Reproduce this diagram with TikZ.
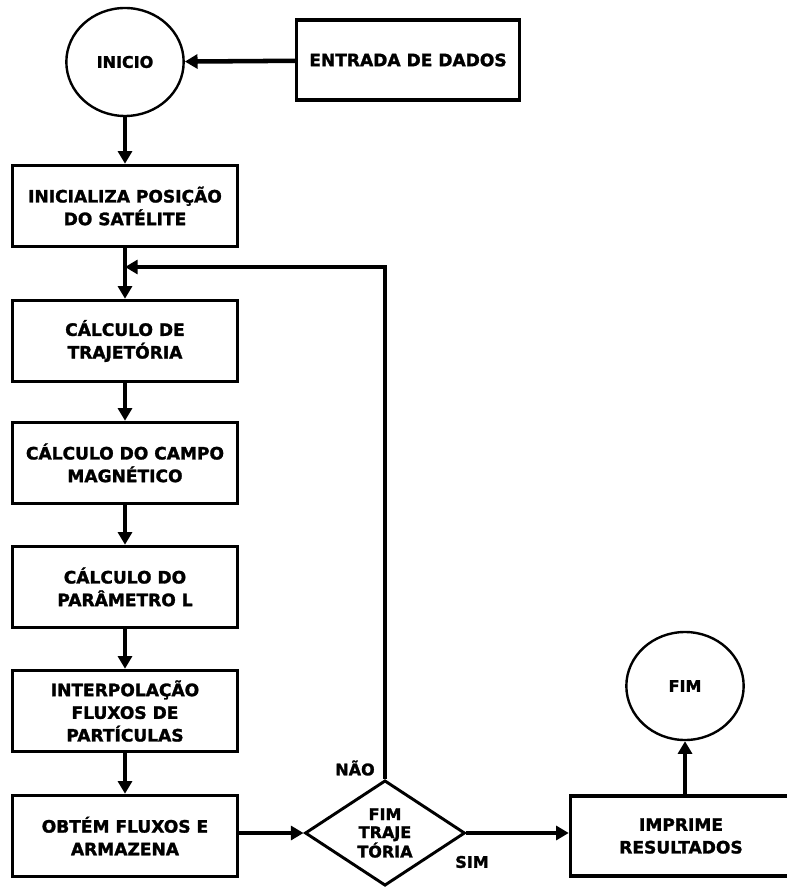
\documentclass[tikz,border=0pt]{standalone}
\usepackage{fontspec}
\setmainfont{DejaVu Sans}
\newfontfamily\grosso{DejaVu Sans Bold}[FakeBold=1.6]
\usetikzlibrary{shapes.geometric,arrows.meta}
\tikzset{
  passo/.style={draw,line width=2.4pt,minimum width=169pt,minimum height=61pt,align=center,
    font=\grosso\fontsize{12.8}{17}\selectfont},
  term/.style={draw,ellipse,line width=1.8pt,minimum width=88pt,minimum height=81pt,
    font=\grosso\fontsize{12}{14}\selectfont},
  decisao/.style={draw,diamond,line width=2.2pt,minimum width=120pt,minimum height=79pt,inner sep=0pt,
    shape aspect=1.5,align=center,font=\grosso\fontsize{12}{13.5}\selectfont},
  fluxo/.style={-{Triangle[length=9.5pt,width=10.5pt]},line width=3.4pt},
  rotulo/.style={font=\grosso\fontsize{12}{14}\selectfont}
}
\begin{document}
\begin{tikzpicture}[x=0.75pt,y=-0.75pt]
  \useasboundingbox (0,0) rectangle (786,887);
  \node (ini) at (125,62) [term] {INICIO};
  \node (ent) at (408,60) [passo,minimum width=167pt,minimum height=60pt] {ENTRADA DE DADOS};
  \node (pos) at (125,206) [passo] {INICIALIZA POSIÇÃO\\DO SATÉLITE};
  \node (traj) at (125,341) [passo] {CÁLCULO DE\\TRAJETÓRIA};
  \node (campo) at (125,463) [passo] {CÁLCULO DO CAMPO\\MAGNÉTICO};
  \node (param) at (125,587) [passo] {CÁLCULO DO\\PARÂMETRO L};
  \node (interp) at (125,711) [passo] {INTERPOLAÇÃO\\FLUXOS DE\\PARTÍCULAS};
  \node (obtem) at (125,836) [passo] {OBTÉM FLUXOS E\\ARMAZENA};
  \node (fimtraj) at (385,833) [decisao] {FIM\\TRAJE\\TÓRIA};
  \node (impr) at (681,836) [passo,minimum width=166pt,minimum height=60pt] {IMPRIME\\RESULTADOS};
  \node (fim) at (685,686) [term] {FIM};
  \node (nao) at (355,768) [rotulo] {NÃO};
  \node (sim) at (472,862) [rotulo] {SIM};
  \coordinate (volta) at (385,267);
  \coordinate (junta) at (125,267);
  % ligacoes
  \draw[fluxo] (ent) -- (ini);
  \draw[fluxo] (ini) -- (pos);
  \draw[fluxo] (pos) -- (traj);
  \draw[fluxo] (traj) -- (campo);
  \draw[fluxo] (campo) -- (param);
  \draw[fluxo] (param) -- (interp);
  \draw[fluxo] (interp) -- (obtem);
  \draw[fluxo] (obtem.east |- fimtraj) -- (fimtraj);
  \draw[fluxo] (fimtraj) -- (impr.west |- fimtraj);
  \draw[fluxo] (impr.north -| fim) -- (fim);
  \draw[fluxo] (fimtraj.north) -- (volta) -- (junta);
\end{tikzpicture}
\end{document}
